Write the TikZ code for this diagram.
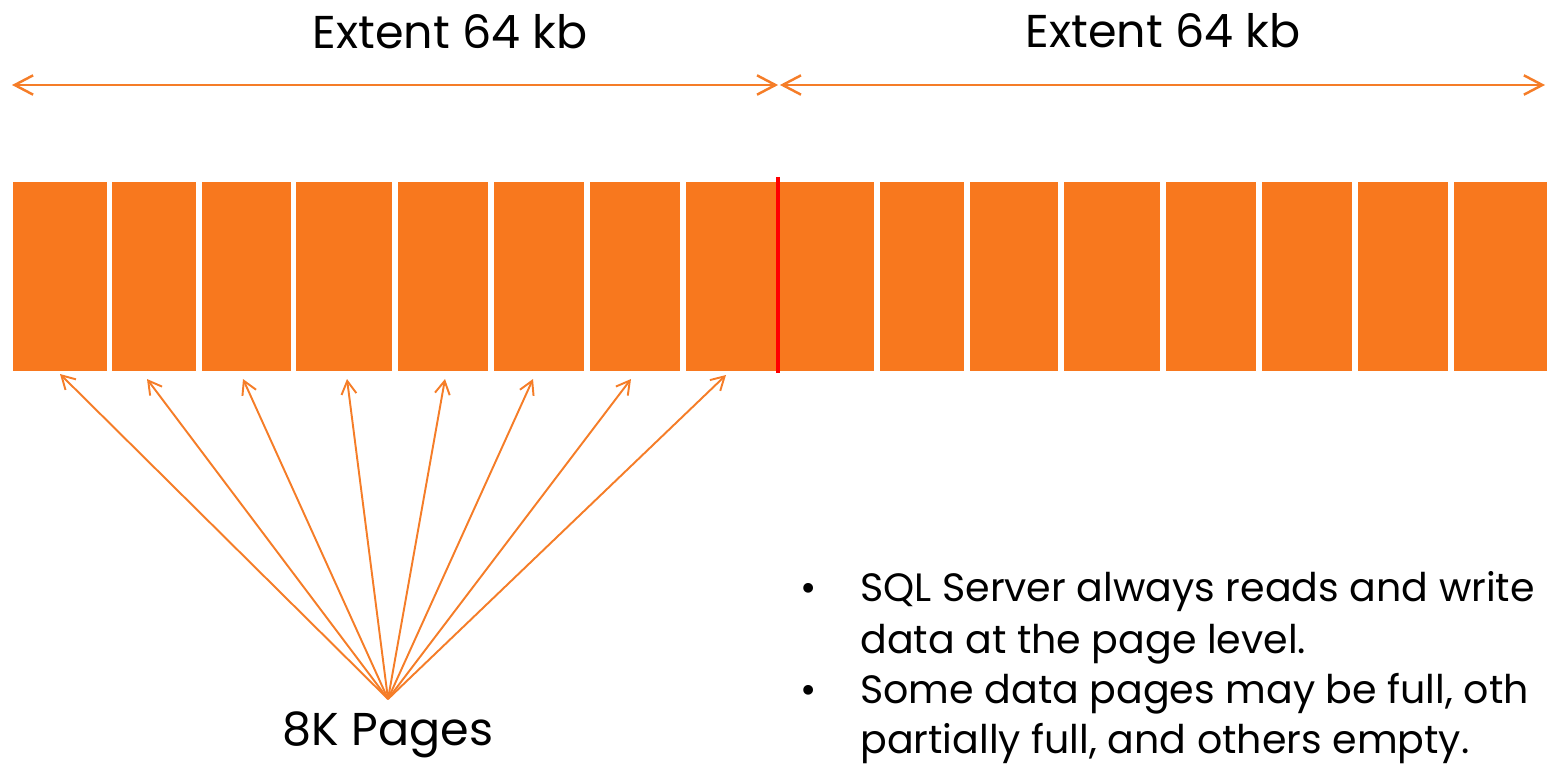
\documentclass[tikz,border=0pt]{standalone}
\usepackage{fontspec}
\setmainfont{Poppins}
\usetikzlibrary{arrows.meta}
\definecolor{pageorange}{RGB}{248,120,30}
\definecolor{arroworange}{RGB}{245,125,40}
\definecolor{splitred}{RGB}{255,0,0}

\begin{document}
\begin{tikzpicture}[x=0.02cm, y=-0.02cm,
    pagebox/.style={rectangle, fill=pageorange, inner sep=0pt, minimum height=3.78cm},
    extentarrow/.style={arroworange, line width=1.4pt,
        {Straight Barb[length=10.5pt,width=11pt]}-{Straight Barb[length=10.5pt,width=11pt]}},
    pagearrow/.style={arroworange, line width=1.1pt, -{Straight Barb[length=7.5pt,width=8.5pt]}},
    splitline/.style={splitred, line width=2.3pt},
    titletext/.style={font=\fontsize{26.2}{32}\selectfont, inner sep=0pt, anchor=base},
    bullettext/.style={font=\fontsize{22.5}{28}\selectfont, inner sep=0pt, anchor=base west}]
    \useasboundingbox (0,0) rectangle (1547,764);

    % Extent labels and arrows
    \node[titletext] (ext1) at (450,48) {Extent 64 kb};
    \node[titletext] (ext2) at (1163,47) {Extent 64 kb};
    \coordinate (e0) at (12,85);
    \coordinate (e1) at (779,85);
    \coordinate (e2) at (1545,85);
    \draw[extentarrow] (e0) -- ([xshift=-0.5pt]e1);
    \draw[extentarrow] ([xshift=0.5pt]e1) -- (e2);

    % Draw pages
    \foreach \i/\a/\b in {1/13/107, 2/112/196, 3/202/291, 4/296/392, 5/398/488, 6/494/584,
        7/590/680, 8/686/778, 9/778/874, 10/880/964, 11/970/1058, 12/1064/1160,
        13/1166/1256, 14/1262/1352, 15/1358/1448, 16/1454/1547}
        \node[pagebox, minimum width={(\b-\a)*0.02cm}] (p\i) at ({(\a+\b)/2},276.5) {};

    % Extent boundary
    \draw[splitline] ([yshift=2.8pt]p8.north east) -- ([yshift=-1.2pt]p8.south east);

    % Pages label and arrows
    \node[titletext] (pages) at (388,745) {8K Pages};
    \coordinate (hub) at (388,699);
    \foreach \i/\x/\y in {1/60/374, 2/147/379, 3/243/379, 4/347/379,
        5/445/379, 6/533/379, 7/631/379, 8/726/375}
        \coordinate (t\i) at (\x,\y);
    \foreach \i in {1,...,8}
        \draw[pagearrow] (hub) -- (t\i);

    % Notes
    \node[bullettext] (dot1) at (800,601) {•};
    \node[bullettext] (note1) at (860,601) {SQL Server always reads and write};
    \node[bullettext] (note2) at (860,653) {data at the page level.};
    \node[bullettext] (dot2) at (800,703) {•};
    \node[bullettext] (note3) at (860,703) {Some data pages may be full, oth};
    \node[bullettext] (note4) at (860,753) {partially full, and others empty.};
\end{tikzpicture}
\end{document}
